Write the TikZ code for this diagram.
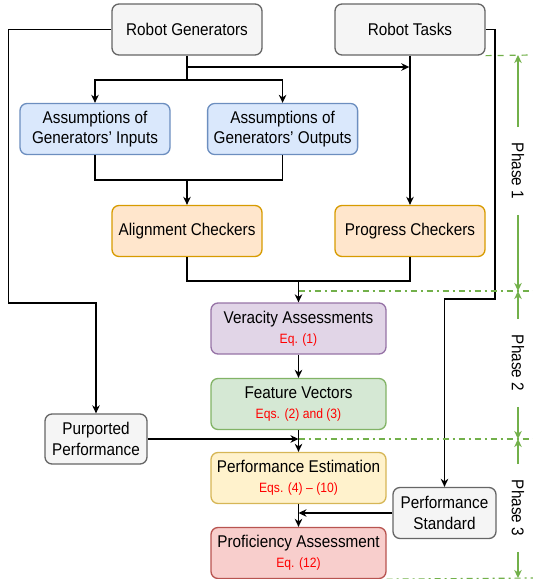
\documentclass[tikz,border=0pt]{standalone}
\usepackage{fontspec}
\setmainfont{Liberation Sans}[FakeStretch=0.9]
\usetikzlibrary{arrows.meta}
\definecolor{grayfill}{HTML}{F5F5F5}\definecolor{grayline}{HTML}{666666}
\definecolor{bluefill}{HTML}{DAE8FC}\definecolor{blueline}{HTML}{6C8EBF}
\definecolor{orangefill}{HTML}{FFE6CC}\definecolor{orangeline}{HTML}{D79B00}
\definecolor{purplefill}{HTML}{E1D5E7}\definecolor{purpleline}{HTML}{9673A6}
\definecolor{greenfill}{HTML}{D5E8D4}\definecolor{greenline}{HTML}{82B366}
\definecolor{yellowfill}{HTML}{FFF2CC}\definecolor{yellowline}{HTML}{D6B656}
\definecolor{redfill}{HTML}{F8CECC}\definecolor{redline}{HTML}{B85450}
\definecolor{phasegreen}{HTML}{72B04A}
\newcommand{\eqtext}[1]{\\{\color{red}\fontsize{13.5}{16}\selectfont #1}}
\begin{document}
\begin{tikzpicture}[x=1pt, y=-1pt, line width=1.5pt, >={Stealth[length=8pt,width=7.5pt,inset=2.5pt]},
	box/.style={draw, rounded corners=7pt, align=center, inner sep=0pt, line width=1.3pt,
		minimum height=51pt, minimum width=150pt, font=\fontsize{17}{20.4}\selectfont},
	graybox/.style={box, fill=grayfill, draw=grayline},
	bluebox/.style={box, fill=bluefill, draw=blueline},
	orangebox/.style={box, fill=orangefill, draw=orangeline},
	widebox/.style={box, minimum width=175pt},
	phase/.style={draw=phasegreen, line width=1.2pt},
	phaselabel/.style={rotate=-90, inner xsep=15pt, inner ysep=2pt, font=\fontsize{17}{20}\selectfont}]
	\useasboundingbox (0,0) rectangle (533,579);
	
	%inputs
	\node[graybox] (gen) at (187, 29.5) {Robot Generators};
	\node[graybox] (tasks) at (410, 29.5) {Robot Tasks};
	
	%phase 1
	\node[bluebox] (ain) at (95, 129) {Assumptions of\\Generators’ Inputs};
	\node[bluebox] (aout) at (282.6, 129) {Assumptions of\\Generators’ Outputs};
	\node[orangebox] (align) at (187, 231) {Alignment Checkers};
	\node[orangebox] (prog) at (410, 231) {Progress Checkers};
	
	%phase 2
	\node[widebox, fill=purplefill, draw=purpleline] (ver) at (298.5, 328.5) {Veracity Assessments\eqtext{Eq. (1)}};
	\node[widebox, fill=greenfill, draw=greenline] (feat) at (298.5, 404) {Feature Vectors\eqtext{Eqs. (2) and (3)}};
	
	%phase 3
	\node[graybox, minimum width=102pt, minimum height=50pt] (purp) at (96, 439) {Purported\\Performance};
	\node[widebox, fill=yellowfill, draw=yellowline] (est) at (298.5, 478) {Performance Estimation\eqtext{Eqs. (4) – (10)}};
	\node[graybox, minimum width=103pt] (std) at (444.5, 513) {Performance\\Standard};
	\node[widebox, fill=redfill, draw=redline] (prof) at (298.5, 553) {Proficiency Assessment\eqtext{Eq. (12)}};
	
	%joints
	\coordinate (j0) at (187, 67);
	\coordinate (j1) at (187, 80);
	\coordinate (j2) at (187, 180);
	\coordinate (j3) at (298.5, 281);
	\coordinate (j4) at (410, 67);
	
	%connectors
	\draw[->] (gen.west) -| (8.5, 303) -| (purp.north);
	\draw (gen.south) -- (j1);
	\draw[->] (j1) -| (ain.north);
	\draw[->] (j1) -| (aout.north);
	\draw[->, shorten >=0.7pt] (j0) -- (j4);
	\draw[->] (tasks.south) -- (prog.north);
	\draw (ain.south) |- (j2) -| (aout.south);
	\draw[->] (j2) -- (align.north);
	\draw (align.south) |- (j3) -| (prog.south);
	\draw[->] (j3) -- (ver.north);
	\draw[->] (ver.south) -- (feat.north);
	\draw[->] (feat.south) -- (est.north);
	\draw[->] (purp.east) -- (purp.east -| feat.south);
	\draw[->] (est.south) -- (prof.north);
	\draw[->] (std.west) -- (std.west -| est.south);
	\draw[->] (tasks.east) -| (495, 299) -| (std.north);
	
	%phase boundaries
	\coordinate (ph0) at (518, 55);
	\coordinate (ph1) at (518, 291);
	\coordinate (ph2) at (518, 439);
	\coordinate (ph3) at (518, 578);
	\draw[phase, dash pattern=on 6pt off 6pt] (tasks.south east) -- (533, 55);
	\draw[phase, dash pattern=on 6pt off 4pt on 2pt off 4pt] (ver.north |- ph1) -- (533, 291);
	\draw[phase, dash pattern=on 6pt off 4pt on 2pt off 4pt] (feat.south |- ph2) -- (533, 439);
	\draw[phase, dash pattern=on 6pt off 4pt on 2pt off 4pt] (prof.south east) -- (533, 578);
	
	\foreach \n/\y in {1/171, 2/363, 3/508}{
		\node[phaselabel] (phase\n) at (518, \y) {Phase \n};
	}
	\draw[phase, ->] (phase1) -- (ph0);
	\draw[phase, ->] (phase1) -- (ph1);
	\draw[phase, ->] (phase2) -- (ph1);
	\draw[phase, ->] (phase2) -- (ph2);
	\draw[phase, ->] (phase3) -- (ph2);
	\draw[phase, ->] (phase3) -- (ph3);
\end{tikzpicture}
\end{document}
